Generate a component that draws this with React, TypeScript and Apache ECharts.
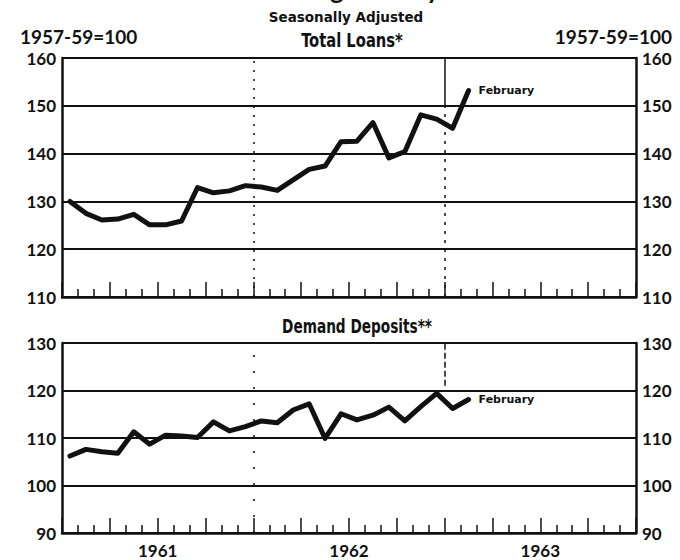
import React, { useEffect, useRef } from "react";
import * as echarts from "echarts";

// Months are counted from January 1961 (index 0) on a 36-month axis (1961-1963)
const yearLabels = ["1961", "1962", "1963"];
const yearStarts = [12, 24]; // January 1962, January 1963
const lastMonthLabel = "February";

// Total loans, 1957-59=100, monthly Jan 1961 - Feb 1963
const loans = [
  130.0, 127.5, 126.1, 126.3, 127.3, 125.1, 125.1, 125.9, 132.9, 131.8, 132.2, 133.3,
  133.0, 132.3, 134.5, 136.7, 137.4, 142.5, 142.6, 146.5, 139.1, 140.4, 148.1, 147.2,
  145.3, 153.2,
];

// Demand deposits, 1957-59=100, monthly Jan 1961 - Feb 1963
const deposits = [
  106.2, 107.6, 107.1, 106.8, 111.3, 108.7, 110.6, 110.4, 110.1, 113.4, 111.5, 112.4,
  113.6, 113.2, 115.9, 117.2, 109.9, 115.1, 113.8, 114.8, 116.5, 113.6, 116.6, 119.4,
  116.2, 118.1,
];

const loansTicks = [110, 160];
const depositsTicks = [90, 130];

const INK = "#111";
const numFont = "Lato, 'DejaVu Sans', sans-serif";
const condFont = "'Liberation Sans Narrow', 'DejaVu Sans Condensed', 'Roboto', sans-serif";

export default function App() {
  const ref = useRef<HTMLDivElement | null>(null);

  useEffect(() => {
    if (!ref.current) return;
    const chart = echarts.init(ref.current, undefined, { renderer: "svg" });

    const xAxisBase = (gridIndex: number, showLabels: boolean) => ({
      type: "value",
      gridIndex,
      min: 0,
      max: 36,
      interval: 3,
      axisLine: { show: true, lineStyle: { color: INK, width: 2.5 } },
      axisTick: { show: true, inside: true, length: 15, lineStyle: { color: INK, width: 1.5 } },
      minorTick: { show: true, splitNumber: 3, length: 8, lineStyle: { color: INK, width: 1.5 } },
      splitLine: { show: false },
      minorSplitLine: { show: false },
      axisLabel: {
        show: showLabels,
        margin: 9,
        color: INK,
        fontFamily: numFont,
        fontWeight: "bold",
        fontSize: 17,
        formatter: (v: number) => {
          if (v === 6) return yearLabels[0];
          if (v === 18) return yearLabels[1];
          if (v === 30) return yearLabels[2];
          return "";
        },
      },
    });

    const yAxisBase = (gridIndex: number, range: number[], position: string, split: boolean) => ({
      type: "value",
      gridIndex,
      position,
      min: range[0],
      max: range[1],
      interval: 10,
      axisLine: { show: true, onZero: false, lineStyle: { color: INK, width: 2.5 } },
      axisTick: { show: false },
      splitLine: { show: split, lineStyle: { color: INK, width: 2 } },
      axisLabel: {
        show: true,
        margin: 6,
        color: INK,
        fontFamily: numFont,
        fontWeight: "bold",
        fontSize: 17,
      },
    });

    const seg = (x: number, y0: number, y1: number, type: any) => [
      { coord: [x, y0], lineStyle: { color: INK, width: 1.5, type } },
      { coord: [x, y1] },
    ];

    const endLabel = {
      show: true,
      formatter: lastMonthLabel,
      distance: 10,
      color: INK,
      fontFamily: "'DejaVu Sans', sans-serif",
      fontWeight: "bold",
      fontSize: 11,
    };

    const option: any = {
      animation: false,
      backgroundColor: "#fff",
      grid: [
        { left: 62, right: 44, top: 58, height: 239 },
        { left: 62, right: 44, top: 343, height: 190 },
      ],
      xAxis: [xAxisBase(0, false), xAxisBase(1, true)],
      yAxis: [
        yAxisBase(0, loansTicks, "left", true),
        yAxisBase(0, loansTicks, "right", false),
        yAxisBase(1, depositsTicks, "left", true),
        yAxisBase(1, depositsTicks, "right", false),
      ],
      series: [
        {
          type: "line",
          name: "Total Loans",
          xAxisIndex: 0,
          yAxisIndex: 0,
          data: loans.map((v, i) => [i + 0.5, v]),
          showSymbol: false,
          lineStyle: { color: INK, width: 5, join: "round", cap: "round" },
          endLabel,
          markLine: {
            silent: true,
            symbol: "none",
            label: { show: false },
            data: [
              seg(yearStarts[0], loansTicks[0], loansTicks[1], [2, 7]),
              seg(yearStarts[1], 150, loansTicks[1], "solid"),
              seg(yearStarts[1], loansTicks[0], 150, [3, 6]),
            ],
          },
          z: 5,
        },
        {
          type: "line",
          name: "Demand Deposits",
          xAxisIndex: 1,
          yAxisIndex: 2,
          data: deposits.map((v, i) => [i + 0.5, v]),
          showSymbol: false,
          lineStyle: { color: INK, width: 5, join: "round", cap: "round" },
          endLabel,
          markLine: {
            silent: true,
            symbol: "none",
            label: { show: false },
            data: [
              seg(yearStarts[0], depositsTicks[0], depositsTicks[1], [2, 14]),
              seg(yearStarts[1], 121, depositsTicks[1], [6, 3]),
            ],
          },
          z: 5,
        },
      ],
      graphic: [
        {
          type: "text",
          x: 345,
          y: 2,
          style: {
            text: "Banking Activity",
            align: "center",
            verticalAlign: "bottom",
            fill: INK,
            font: "bold 26px Lato, sans-serif",
          },
        },
        {
          type: "text",
          x: 346,
          y: 17,
          style: {
            text: "Seasonally Adjusted",
            align: "center",
            verticalAlign: "middle",
            fill: INK,
            font: "bold 13.5px 'DejaVu Sans', sans-serif",
          },
        },
        {
          type: "text",
          x: 352,
          y: 40,
          scaleX: 0.82,
          style: {
            text: "Total Loans*",
            align: "center",
            verticalAlign: "middle",
            fill: INK,
            font: `bold 20px ${condFont}`,
          },
        },
        {
          type: "text",
          x: 357,
          y: 326,
          scaleX: 0.8,
          style: {
            text: "Demand Deposits**",
            align: "center",
            verticalAlign: "middle",
            fill: INK,
            font: `bold 19px ${condFont}`,
          },
        },
        {
          type: "text",
          x: 20,
          y: 36,
          style: {
            text: "1957-59=100",
            align: "left",
            verticalAlign: "middle",
            fill: INK,
            font: `bold 19px ${numFont}`,
          },
        },
        {
          type: "text",
          x: 672,
          y: 36,
          style: {
            text: "1957-59=100",
            align: "right",
            verticalAlign: "middle",
            fill: INK,
            font: `bold 19px ${numFont}`,
          },
        },
      ],
    };

    chart.setOption(option);
    return () => chart.dispose();
  }, []);

  return (
    <div
      ref={ref}
      style={{ position: "fixed", left: 0, top: 0, width: 680, height: 560, background: "#fff" }}
    />
  );
}
